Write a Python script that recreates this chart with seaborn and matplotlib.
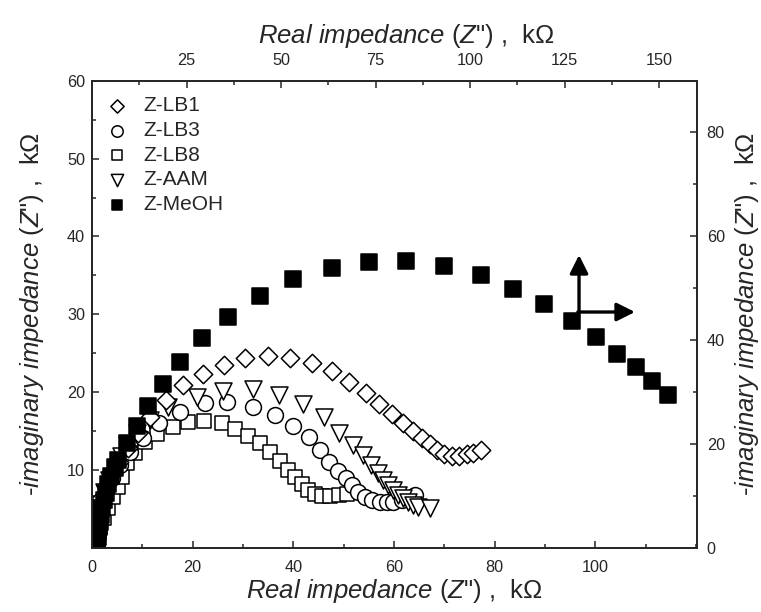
import matplotlib
matplotlib.use("Agg")
import matplotlib.pyplot as plt
import seaborn as sns
import pandas as pd
from matplotlib.ticker import MultipleLocator, FixedLocator

# ---------------- data (kOhm) ----------------
lb1_x = [0.10, 0.2, 0.4, 0.6, 1.19, 1.79, 2.78, 3.97, 5.36, 7.15, 9.14, 11.52, 14.70, 18.02, 22.0, 26.29,
         30.4, 34.97, 39.34, 43.65, 47.63, 51.12, 54.38, 57.08, 59.55, 61.85, 63.84, 65.51, 67.16, 68.61,
         70.00, 71.47, 72.92, 74.45, 75.64, 77.29]
lb1_y = [0.39, 1.03, 2.06, 3.34, 4.88, 6.43, 7.97, 9.51, 11.05, 12.85, 14.78, 16.84, 19.02, 20.95, 22.33, 23.52,
         24.38, 24.64, 24.38, 23.80, 22.79, 21.25, 19.88, 18.51, 17.22, 16.11, 15.08, 14.18, 13.37, 12.60,
         12.08, 11.86, 11.86, 12.04, 12.25, 12.60]

lb3_x = [0.10, 0.30, 0.60, 0.99, 1.79, 2.78, 3.97, 5.56, 7.55, 10.19, 13.31, 17.48, 22.45, 26.76, 31.93,
         36.26, 39.94, 43.16, 45.38, 47.13, 48.94, 50.41, 51.60, 52.91, 54.24, 55.57, 57.22, 58.55, 59.86,
         61.53, 64.18]
lb3_y = [0.39, 1.41, 2.70, 4.24, 5.91, 7.46, 9.00, 10.67, 12.34, 14.10, 16.03, 17.52, 18.60, 18.80, 18.16,
         17.13, 15.68, 14.20, 12.55, 11.03, 9.94, 8.96, 8.10, 7.24, 6.59, 6.17, 5.95, 5.87, 5.95,
         6.17, 6.81]

lb8_x = [0.20, 0.60, 0.99, 1.59, 2.38, 3.18, 4.17, 5.17, 5.90, 6.89, 8.54, 10.53, 12.97, 16.15, 19.13,
         22.31, 25.77, 28.41, 31.06, 33.38, 35.43, 37.29, 38.88, 40.33, 41.67, 42.98, 44.31, 45.70, 47.29,
         48.98, 50.67]
lb8_y = [0.26, 0.90, 1.67, 2.70, 3.86, 5.14, 6.56, 7.84, 9.16, 10.89, 12.25, 13.59, 14.65, 15.59, 16.16,
         16.36, 16.03, 15.30, 14.43, 13.46, 12.31, 11.13, 10.06, 9.09, 8.26, 7.49, 6.88, 6.66, 6.68,
         6.77, 6.94]

aam_x = [0.10, 0.30, 0.60, 0.99, 1.59, 2.38, 3.38, 4.57, 5.76, 7.05, 8.88, 11.52, 15.16, 20.80, 26.09,
         31.99, 37.10, 41.86, 46.10, 49.14, 51.80, 53.90, 55.37, 56.89, 57.88, 58.87, 59.86, 60.86, 61.85,
         62.85, 63.84, 64.83, 67.16]
aam_y = [0.39, 1.54, 2.83, 4.24, 5.66, 7.20, 8.74, 10.41, 11.83, 13.24, 14.74, 16.45, 18.16, 19.45, 20.18,
         20.44, 19.70, 18.48, 16.88, 14.82, 13.24, 11.95, 10.67, 9.60, 8.74, 8.10, 7.46, 6.81, 6.39,
         5.95, 5.53, 5.23, 5.10]

meoh_x = [0.9, 0.95, 1.0, 1.1, 1.2, 1.35, 1.5, 1.7, 1.95, 2.3, 2.7, 3.2, 3.8, 4.5, 5.23, 6.89, 8.88, 11.19,
          14.05, 17.48, 21.86, 26.96, 33.38, 40.00, 47.63, 55.04, 62.39, 69.99, 77.23, 83.71, 89.87,
          95.31, 100.08, 104.31, 108.03, 111.3, 114.4]
meoh_y = [0.2, 0.5, 0.9, 1.4, 2.0, 2.7, 3.4, 4.2, 5.1, 6.1, 7.1, 8.2, 9.3, 10.3, 11.31, 13.50, 15.68, 18.25,
          21.08, 23.82, 26.99, 29.69, 32.39, 34.54, 35.95, 36.76, 36.89, 36.25, 35.05, 33.29, 31.36,
          29.18, 27.08, 24.90, 23.30, 21.5, 19.7]

bottom_ticks = [0, 20, 40, 60, 80, 100]
top_ticks = [25, 50, 75, 100, 125, 150]
left_ticks = [10, 20, 30, 40, 50, 60]
right_ticks = [0, 20, 40, 60, 80]

series = [("Z-LB8", lb8_x, lb8_y, "s", 110),
          ("Z-LB3", lb3_x, lb3_y, "o", 130),
          ("Z-AAM", aam_x, aam_y, "v", 150),
          ("Z-LB1", lb1_x, lb1_y, "D", 88),
          ("Z-MeOH", meoh_x, meoh_y, "s", 118)]
legend_order = ["Z-LB1", "Z-LB3", "Z-LB8", "Z-AAM", "Z-MeOH"]

# ---------------- style ----------------
sns.set_style("ticks")
plt.rcParams["font.family"] = ["Liberation Sans", "DejaVu Sans"]
plt.rcParams["mathtext.fontset"] = "custom"
plt.rcParams["mathtext.rm"] = "Liberation Sans"
plt.rcParams["mathtext.it"] = "Liberation Sans:italic"
plt.rcParams["axes.linewidth"] = 1.1
for a in ("x", "y"):
    plt.rcParams[f"{a}tick.direction"] = "in"
    plt.rcParams[f"{a}tick.major.size"] = 5
    plt.rcParams[f"{a}tick.minor.size"] = 3
    plt.rcParams[f"{a}tick.major.width"] = 1.1
    plt.rcParams[f"{a}tick.minor.width"] = 1.1

fig = plt.figure(figsize=(7.61, 6.12), dpi=100)
ax = fig.add_axes([0.1209, 0.1046, 0.795, 0.7635])

for name, xs, ys, mk, size in series:
    df = pd.DataFrame({"x": xs, "y": ys})
    filled = name == "Z-MeOH"
    sns.scatterplot(data=df, x="x", y="y", marker=mk, s=size, ax=ax,
                    facecolor="black" if filled else "white", edgecolor="black",
                    linewidth=1.1, label=name, zorder=3)

TICK_FS = 11.7
LABEL_FS = 18.5

ax.set_xlim(0, 120.2)
ax.set_ylim(0, 60)
ax.xaxis.set_major_locator(FixedLocator(bottom_ticks))
ax.xaxis.set_minor_locator(MultipleLocator(10))
ax.yaxis.set_major_locator(FixedLocator(left_ticks))
ax.yaxis.set_minor_locator(MultipleLocator(5))
ax.tick_params(labelsize=TICK_FS, which="both", top=False, right=False)
ax.tick_params(axis="x", pad=9)
ax.tick_params(axis="y", pad=5)

label_txt = r'$\mathit{Real\ impedance}$ ($\mathit{Z}$") ,  k$\Omega$'
ylab_txt = r'-$\mathit{imaginary\ impedance}$ ($\mathit{Z}$") ,  k$\Omega$'
ax.set_xlabel(label_txt, fontsize=LABEL_FS, labelpad=1)
ax.set_ylabel(ylab_txt, fontsize=LABEL_FS, labelpad=15)

# top axis
axt = ax.twiny()
axt.set_xlim(0, 160)
axt.xaxis.set_major_locator(FixedLocator(top_ticks))
axt.xaxis.set_minor_locator(MultipleLocator(12.5))
axt.tick_params(labelsize=TICK_FS, which="both", direction="in")
axt.tick_params(axis="x", pad=9)
axt.set_xlabel(label_txt, fontsize=LABEL_FS)
axt.xaxis.label.set_verticalalignment("bottom")
axt.xaxis.set_label_coords(0.52, 1.066)

# right axis
axr = ax.twinx()
axr.set_ylim(0, 89.8)
axr.yaxis.set_major_locator(FixedLocator(right_ticks))
axr.yaxis.set_minor_locator(FixedLocator([10, 30, 50, 70]))
axr.tick_params(labelsize=TICK_FS, which="both", direction="in")
axr.tick_params(axis="y", pad=7)
axr.set_ylabel(ylab_txt, fontsize=LABEL_FS)
axr.yaxis.set_label_coords(1.0595, 0.5)

# legend
h, l = ax.get_legend_handles_labels()
hd = dict(zip(l, h))
ax.legend([hd[n] for n in legend_order], legend_order, loc="upper left",
          bbox_to_anchor=(-0.014, 0.993), frameon=False, fontsize=15,
          markerscale=0.72, handletextpad=0.25, labelspacing=0.27, borderaxespad=0.2)

# direction arrows
arrow_kw = dict(arrowstyle="-|>,head_length=1.1,head_width=0.55", color="black", lw=2.4,
                shrinkA=0, shrinkB=0)
ax.annotate("", xy=(0.805, 0.627), xytext=(0.805, 0.505), xycoords="axes fraction",
            arrowprops=arrow_kw)
ax.annotate("", xy=(0.8975, 0.505), xytext=(0.803, 0.505), xycoords="axes fraction",
            arrowprops=arrow_kw)

fig.savefig("out.png", dpi=100)
